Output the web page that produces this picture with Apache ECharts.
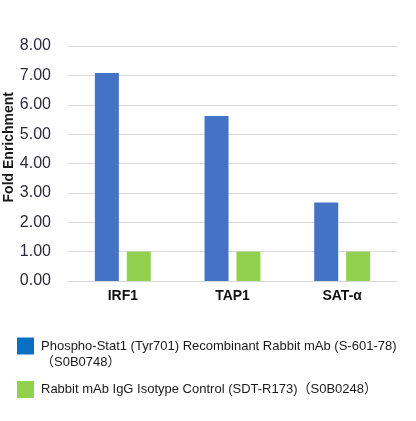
<!DOCTYPE html>
<html>
<head>
<meta charset="utf-8">
<script src="https://cdn.jsdelivr.net/npm/echarts@6/dist/echarts.min.js"></script>
<style>
  html, body { margin: 0; padding: 0; background: #fff; }
  #main { width: 416px; height: 421px; }
</style>
</head>
<body>
<div id="main"></div>
<script>
var categories = ['IRF1', 'TAP1', 'SAT-α'];
var seriesNames = [
    'Phospho-Stat1 (Tyr701) Recombinant Rabbit mAb (S-601-78)\n（S0B0748）',
    'Rabbit mAb IgG Isotype Control (SDT-R173)（S0B0248）'
];
var phosphoValues = [7.08, 5.62, 2.67];
var controlValues = [1.0, 1.0, 1.0];

var fontFam = '"Liberation Sans", Arial, "Noto Sans CJK SC", sans-serif';

var chartDom = document.getElementById('main');
var myChart = echarts.init(chartDom);
var option;

option = {
    animation: false,
    textStyle: { fontFamily: fontFam },
    grid: {
        left: 68,
        right: 19,
        top: 46,
        bottom: 140
    },
    graphic: [
        {
            type: 'text',
            left: 2,
            top: 92,
            rotation: Math.PI / 2,
            style: {
                text: 'Fold Enrichment',
                fontSize: 14,
                fontWeight: 'bold',
                fill: '#1a1a1a',
                fontFamily: fontFam
            }
        }
    ],
    legend: {
        orient: 'vertical',
        left: 12,
        top: 317,
        itemWidth: 17,
        itemHeight: 17,
        itemGap: 11,
        icon: 'rect',
        // empty first line pushes the two-line label down so it starts level with the square
        formatter: function (name) {
            return name === seriesNames[0] ? '\n' + name : name;
        },
        textStyle: {
            fontSize: 13,
            color: '#1a1a1a',
            fontFamily: fontFam,
            lineHeight: 16,
            padding: [0, 0, 0, 2]
        },
        data: [
            {
                name: seriesNames[0],
                itemStyle: { color: '#0A6FC2' }
            },
            {
                name: seriesNames[1],
                itemStyle: { color: '#92D050' }
            }
        ]
    },
    xAxis: {
        type: 'category',
        data: categories,
        axisLine: { show: true, lineStyle: { color: '#d9d9d9' } },
        axisTick: { show: false },
        axisLabel: {
            fontSize: 14,
            fontWeight: 'bold',
            color: '#111',
            margin: 8
        }
    },
    yAxis: {
        type: 'value',
        min: 0,
        max: 8,
        interval: 1,
        axisLine: { show: false },
        axisTick: { show: false },
        axisLabel: {
            fontSize: 16,
            color: '#2b2b3b',
            margin: 17,
            formatter: function (v) { return v.toFixed(2); }
        },
        splitLine: { lineStyle: { color: '#d9d9d9', width: 1 } }
    },
    series: [
        {
            name: seriesNames[0],
            type: 'bar',
            data: phosphoValues,
            barWidth: 24,
            barGap: '33%',
            itemStyle: { color: '#4472C4' }
        },
        {
            name: seriesNames[1],
            type: 'bar',
            data: controlValues,
            barWidth: 24,
            itemStyle: { color: '#92D050' }
        }
    ]
};

option && myChart.setOption(option);
</script>
</body>
</html>
